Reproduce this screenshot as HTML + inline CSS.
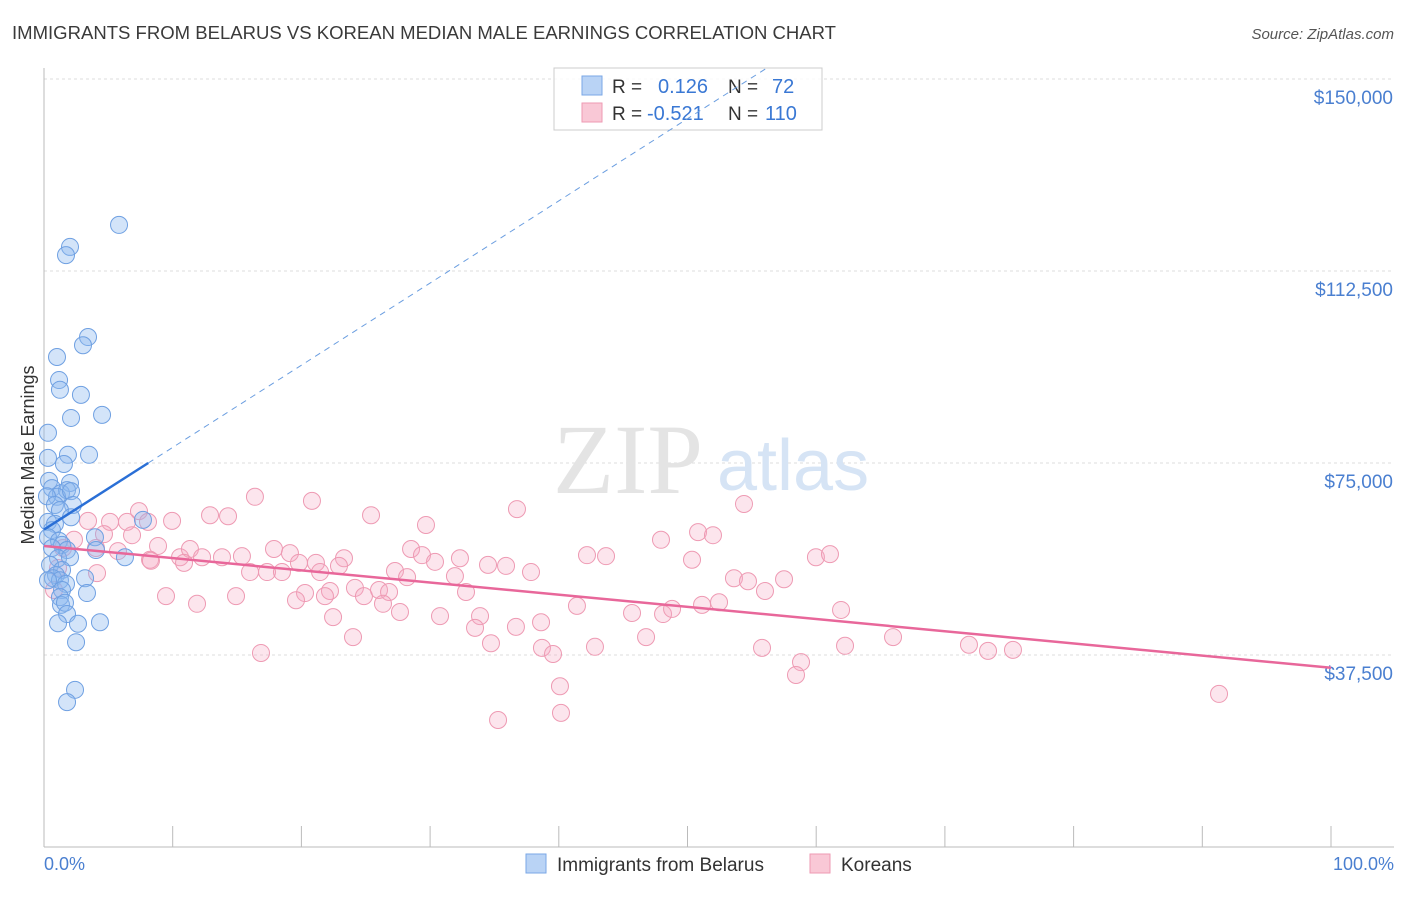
<!DOCTYPE html>
<html><head><meta charset="utf-8">
<style>
body{margin:0;background:#fff;font-family:"Liberation Sans",sans-serif;}
svg text{font-family:"Liberation Sans",sans-serif;}
</style></head>
<body>
<svg id="chart" width="1406" height="892" xmlns="http://www.w3.org/2000/svg">
<text x="12" y="39" font-size="18" fill="#3a3a3a" textLength="824" lengthAdjust="spacingAndGlyphs">IMMIGRANTS FROM BELARUS VS KOREAN MEDIAN MALE EARNINGS CORRELATION CHART</text>
<text x="1394" y="39" font-size="15" fill="#555" text-anchor="end" font-style="italic">Source: ZipAtlas.com</text>
<g id="grid"></g>
<text x="553" y="493" font-size="100" fill="#e4e4e4" style="font-family:'Liberation Serif',serif">ZIP</text>
<text x="717" y="490" font-size="72" fill="#d6e4f5">atlas</text>
<line x1="44" y1="68" x2="44" y2="847" stroke="#bbb"/>
<line x1="44" y1="847" x2="1394" y2="847" stroke="#bbb"/>
<g id="xticks"></g>
<g id="ylabels"></g>
<text x="0" y="0" transform="translate(34,455) rotate(-90)" font-size="18" fill="#333" text-anchor="middle">Median Male Earnings</text>
<text x="44" y="870" font-size="18" fill="#4a7fd0">0.0%</text>
<text x="1394" y="870" font-size="18" fill="#4a7fd0" text-anchor="end">100.0%</text>
<g id="pink"></g>
<g id="blue"></g>
<g>
<rect x="554" y="68" width="268" height="62" fill="#fff" fill-opacity="0.85" stroke="#ccc"/>
<rect x="582" y="76" width="20" height="19" fill="#b9d3f5" stroke="#7aa7e6"/>
<rect x="582" y="103" width="20" height="19" fill="#f9c8d6" stroke="#ee9ab3"/>
<text x="612" y="93" font-size="19" fill="#333">R =</text>
<text x="658" y="93" font-size="20" fill="#3a78d4">0.126</text>
<text x="728" y="93" font-size="19" fill="#333">N =</text>
<text x="772" y="93" font-size="20" fill="#3a78d4">72</text>
<text x="612" y="120" font-size="19" fill="#333">R =</text>
<text x="647" y="120" font-size="20" fill="#3a78d4">-0.521</text>
<text x="728" y="120" font-size="19" fill="#333">N =</text>
<text x="765" y="120" font-size="20" fill="#3a78d4">110</text>
</g>
<g id="trends"></g>
<g>
<rect x="526" y="854" width="20" height="19" fill="#b9d3f5" stroke="#7aa7e6"/>
<text x="557" y="871" font-size="19" fill="#333">Immigrants from Belarus</text>
<rect x="810" y="854" width="20" height="19" fill="#f9c8d6" stroke="#ee9ab3"/>
<text x="841" y="871" font-size="19" fill="#333">Koreans</text>
</g>
</svg>
<script>
const yTicks=[37500,75000,112500,150000];
const yTickLabels=["$37,500","$75,000","$112,500","$150,000"];
const xTickPcts=[0,10,20,30,40,50,60,70,80,90,100];
const blueX=[5.83,2.02,1.71,3.42,3.03,1.01,1.17,1.24,2.87,4.51,2.10,0.31,1.86,3.50,1.55,0.31,0.39,2.02,0.62,1.32,1.79,1.01,2.10,0.23,0.85,2.25,1.24,2.10,0.31,0.85,0.62,7.69,0.31,3.96,1.17,1.40,1.79,4.04,0.62,1.09,2.02,6.29,0.47,1.40,0.93,0.70,1.24,3.19,0.31,1.71,1.40,3.34,1.24,1.32,1.63,1.79,1.09,4.35,2.64,2.49,2.41,1.79];
const blueY=[121500,117200,115600,99600,98000,95700,91200,89300,88300,84400,83800,80900,76600,76600,74800,76000,71500,71100,70100,69100,69700,68400,69500,68500,66800,66800,65800,64400,63500,63100,61900,63900,60500,60500,59800,59000,58000,58000,58400,56400,56600,56600,55100,54100,53100,52500,52100,52500,52100,51400,50200,49600,48800,47300,47700,45500,43700,43900,43600,40000,30700,28300];
const pinkX=[7.38,5.13,6.45,8.08,9.95,12.90,14.30,16.39,20.82,25.41,29.68,36.75,54.39,50.82,51.98,3.42,4.66,6.84,2.33,1.48,4.04,5.75,8.86,8.24,10.57,11.34,12.28,13.83,15.38,17.87,19.11,10.88,19.81,21.13,23.31,28.52,29.37,30.38,32.32,34.50,35.90,42.19,43.67,47.94,50.35,59.98,61.07,1.09,4.12,8.31,16.01,17.33,18.49,21.45,22.92,27.27,28.21,31.93,37.84,53.61,54.70,57.50,22.22,20.28,24.16,24.86,26.03,26.81,32.79,9.48,11.89,14.92,19.58,21.83,26.34,27.66,30.77,33.88,41.41,45.69,48.10,48.80,51.13,52.45,56.02,61.93,22.46,33.49,36.67,38.62,24.01,34.73,38.69,39.55,42.81,46.78,55.79,62.24,65.97,71.87,73.35,75.29,16.86,58.82,58.43,40.09,35.28,40.17,91.30,0.78];
const pinkY=[65600,63500,63500,63500,63700,64800,64600,68400,67600,64800,62900,66000,67000,61500,60900,63700,61100,60900,60000,58400,58400,57800,58800,56100,56600,58200,56600,56600,56800,58200,57400,55500,55500,55500,56400,58200,57000,55700,56400,55100,54900,57000,56800,60000,56100,56600,57200,54500,53500,55900,53700,53700,53700,53700,54900,53900,52700,52900,53700,52500,51900,52300,50000,49600,50600,49000,50200,49800,49800,49000,47500,49000,48200,49000,47500,45900,45100,45100,47100,45700,45500,46500,47300,47800,50000,46300,44900,42800,43000,43900,41000,39800,38900,37700,39100,41000,38900,39300,41000,39500,38300,38500,37900,36100,33600,31400,24800,26200,29900,50200];
const blueTrend=[62000,75000];
const blueTrendEndPct=8.1;
const pinkTrend=[58800,35000];

const NS="http://www.w3.org/2000/svg";
const X0=44,X1=1331,Y0=847,YPER=192/37500;
function sx(p){return X0+(X1-X0)*p/100;}
function sy(v){return Y0-v*YPER;}
function mk(tag,attrs,parent){const e=document.createElementNS(NS,tag);for(const k in attrs)e.setAttribute(k,attrs[k]);parent.appendChild(e);return e;}
const grid=document.getElementById('grid'),yl=document.getElementById('ylabels'),xt=document.getElementById('xticks');
yTicks.forEach((v,i)=>{
  const l=mk('line',{x1:44,x2:1394,y1:sy(v),y2:sy(v),stroke:'#ddd','stroke-dasharray':'3,3'},grid);
  
  
  const t=mk('text',{x:1393,y:sy(v)+25,'font-size':19,fill:'#4a7fd0','text-anchor':'end'},yl);
  t.textContent=yTickLabels[i];
  
  
});
xTickPcts.forEach(p=>{
  const l=mk('line',{x1:sx(p),x2:sx(p),y1:826,y2:847,stroke:'#bbb'},xt);
  
  
});
const pg=document.getElementById('pink');
pinkX.forEach((x,i)=>{
  const c=mk('circle',{cx:sx(x),cy:sy(pinkY[i]),r:8.5,fill:'rgba(246,170,195,0.3)',stroke:'#ee9ab3','stroke-width':1},pg);
  
  
});
const bg=document.getElementById('blue');
blueX.forEach((x,i)=>{
  const c=mk('circle',{cx:sx(x),cy:sy(blueY[i]),r:8.5,fill:'rgba(140,185,240,0.38)',stroke:'#6fa0e2','stroke-width':1},bg);
  
  
});
const tg=document.getElementById('trends');
const bslope=(blueTrend[1]-blueTrend[0])/blueTrendEndPct;
const topVal=(Y0-68)/YPER;
const topPct=(topVal-blueTrend[0])/bslope;
const bd=mk('line',{x1:sx(blueTrendEndPct),y1:sy(blueTrend[1]),x2:sx(topPct),y2:sy(topVal),stroke:'#6b9ee0','stroke-width':1,'stroke-dasharray':'6,5'},tg);


const bs=mk('line',{x1:sx(0),y1:sy(blueTrend[0]),x2:sx(blueTrendEndPct),y2:sy(blueTrend[1]),stroke:'#2a6fd6','stroke-width':2.5},tg);


const ps=mk('line',{x1:sx(0),y1:sy(pinkTrend[0]),x2:sx(100),y2:sy(pinkTrend[1]),stroke:'#e8679a','stroke-width':2.5},tg);


</script>
</body></html>
